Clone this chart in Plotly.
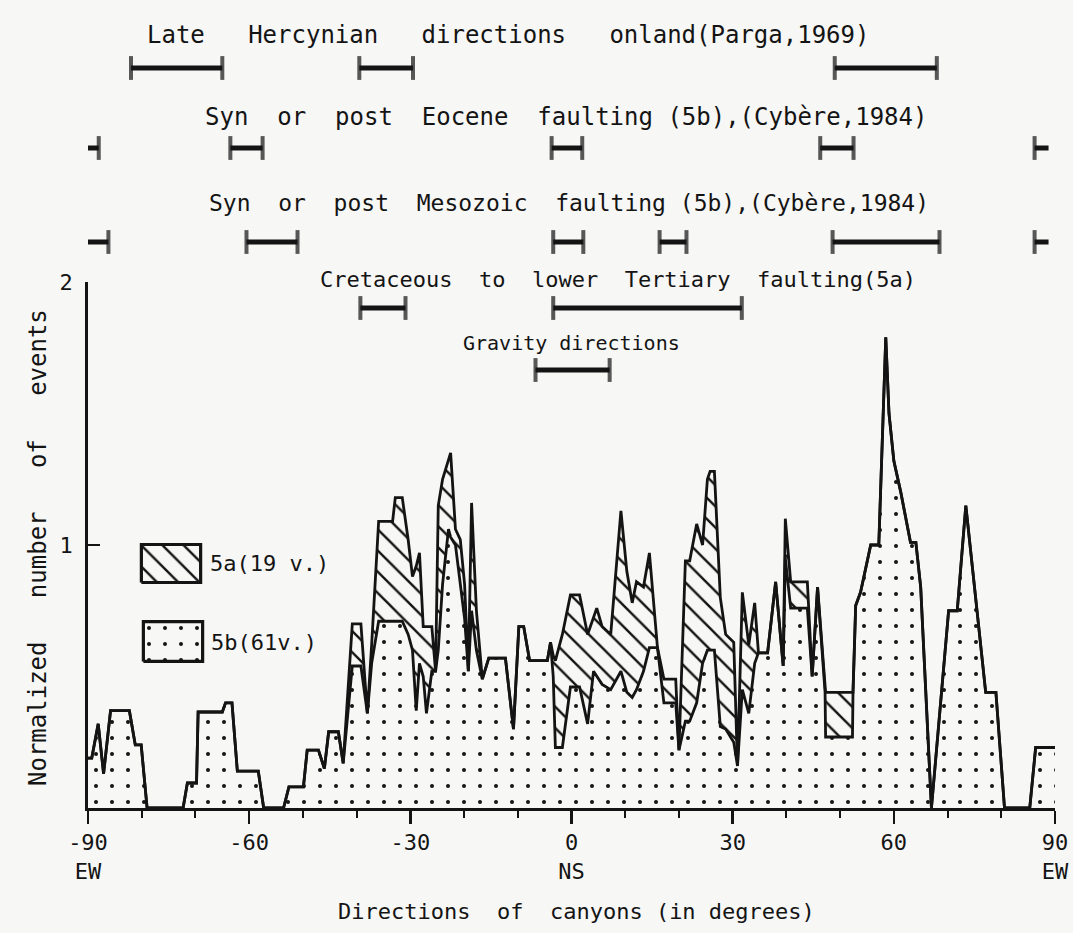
import plotly.graph_objects as go

# ---------------- data ----------------
direction_deg = [
    -90.0, -89.3, -88.1, -87.1, -85.8, -82.3, -81.2, -80.1, -79.0, -72.3,
    -71.5, -69.8, -69.5, -65.0, -64.4, -63.2, -62.2, -58.3, -57.3, -53.6,
    -52.6, -49.9, -49.2, -47.1, -46.0, -45.2, -43.4, -42.5,
    -40.8, -39.2, -38.0, -37.2, -35.9, -33.3, -32.8, -31.5, -30.4, -29.6,
    -28.9, -28.3, -27.6, -27.0, -26.0, -25.3, -24.8, -24.0, -22.9, -22.5,
    -21.6, -20.7, -19.9, -19.2, -18.6, -17.7, -16.6, -15.4, -12.3, -10.8,
    -9.8, -8.9, -7.8, -4.5, -3.9, -3.4, -3.0, -1.7, -0.2, 1.5,
    3.0, 4.1, 4.7, 5.7, 7.3, 9.2, 10.3, 11.3, 12.1, 13.4,
    14.5, 16.0, 17.2, 19.4, 20.0, 21.2, 22.0, 23.3, 24.4, 25.3,
    25.8, 26.6, 27.7, 28.7, 30.2, 30.9, 31.8, 33.0, 34.1, 34.8,
    36.5, 38.0, 39.4, 39.8, 40.8, 43.9, 44.8, 45.8, 47.2, 47.3,
    52.3, 52.4, 52.9, 53.8, 55.7, 57.2, 58.5, 59.1, 60.0, 61.3,
    63.1, 64.1, 65.0, 67.0, 70.2, 71.8, 73.4, 77.1, 79.0, 80.6,
    85.3, 86.4, 90.0,
]

# normalized number of events, 5b only (dotted)
events_5b = [
    0.19, 0.19, 0.32, 0.13, 0.37, 0.37, 0.24, 0.24, 0.00, 0.00,
    0.095, 0.095, 0.365, 0.365, 0.40, 0.40, 0.14, 0.14, 0.00, 0.00,
    0.08, 0.08, 0.22, 0.22, 0.15, 0.29, 0.29, 0.17,
    0.54, 0.54, 0.36, 0.55, 0.71, 0.71, 0.71, 0.71, 0.66, 0.60,
    0.37, 0.55, 0.50, 0.36, 0.52, 0.52, 0.60, 0.85, 1.06, 1.03,
    1.00, 0.85, 0.72, 0.52, 0.75, 0.60, 0.49, 0.57, 0.57, 0.30,
    0.69, 0.69, 0.56, 0.56, 0.63, 0.50, 0.23, 0.23, 0.46, 0.46,
    0.32, 0.52, 0.50, 0.47, 0.45, 0.52, 0.44, 0.42, 0.45, 0.52,
    0.61, 0.61, 0.40, 0.40, 0.22, 0.33, 0.33, 0.40, 0.55, 0.60,
    0.60, 0.60, 0.31, 0.30, 0.25, 0.16, 0.45, 0.36, 0.55, 0.59,
    0.59, 0.86, 0.54, 0.95, 0.76, 0.76, 0.50, 0.84, 0.44, 0.27,
    0.27, 0.44, 0.77, 0.82, 1.00, 1.00, 1.79, 1.50, 1.32, 1.20,
    1.01, 1.01, 0.84, 0.00, 0.75, 0.75, 1.15, 0.44, 0.44, 0.00,
    0.00, 0.23, 0.23,
]

# normalized number of events, 5a stacked on 5b (top outline)
events_total = [
    0.19, 0.19, 0.32, 0.13, 0.37, 0.37, 0.24, 0.24, 0.00, 0.00,
    0.095, 0.095, 0.365, 0.365, 0.40, 0.40, 0.14, 0.14, 0.00, 0.00,
    0.08, 0.08, 0.22, 0.22, 0.15, 0.29, 0.29, 0.17,
    0.70, 0.70, 0.36, 0.62, 1.09, 1.09, 1.18, 1.18, 1.02, 0.88,
    0.92, 0.97, 0.69, 0.69, 0.69, 0.52, 1.15, 1.25, 1.33, 1.35,
    1.06, 1.02, 0.85, 0.52, 1.16, 0.75, 0.49, 0.57, 0.57, 0.30,
    0.69, 0.69, 0.56, 0.56, 0.63, 0.58, 0.56, 0.66, 0.81, 0.81,
    0.66, 0.72, 0.76, 0.69, 0.66, 1.13, 0.90, 0.78, 0.86, 0.84,
    0.97, 0.61, 0.49, 0.49, 0.22, 0.94, 0.94, 1.08, 1.00, 1.25,
    1.28, 1.28, 0.80, 0.66, 0.63, 0.16, 0.82, 0.62, 0.78, 0.59,
    0.59, 0.86, 0.54, 1.10, 0.86, 0.86, 0.50, 0.84, 0.44, 0.44,
    0.44, 0.44, 0.77, 0.82, 1.00, 1.00, 1.79, 1.50, 1.32, 1.20,
    1.01, 1.01, 0.84, 0.00, 0.75, 0.75, 1.15, 0.44, 0.44, 0.00,
    0.00, 0.23, 0.23,
]

# direction ranges (degrees); (a, b) with a > b wraps across +/-90
hercynian = [(-82.0, -65.0), (-39.5, -29.5), (49.0, 68.0)]
eocene = [(86.2, -88.0), (-63.5, -57.5), (-3.7, 2.0), (46.3, 52.5)]
mesozoic = [(86.2, -86.2), (-60.5, -51.0), (-3.4, 2.2), (16.4, 21.4), (48.6, 68.5)]
cretaceous = [(-39.3, -30.9), (-3.4, 31.7)]
gravity = [(-6.7, 7.1)]

S2 = "\u00a0\u00a0"
S3 = "\u00a0\u00a0\u00a0"
range_labels = [
    "Late" + S3 + "Hercynian" + S3 + "directions" + S3 + "onland(Parga,1969)",
    "Syn" + S2 + "or" + S2 + "post" + S2 + "Eocene" + S2 + "faulting\u00a0(5b),(Cybère,1984)",
    "Syn" + S2 + "or" + S2 + "post" + S2 + "Mesozoic" + S2 + "faulting\u00a0(5b),(Cybère,1984)",
    "Cretaceous" + S2 + "to" + S2 + "lower" + S2 + "Tertiary" + S2 + "faulting(5a)",
    "Gravity\u00a0directions",
]
range_sets = [hercynian, eocene, mesozoic, cretaceous, gravity]

x_tickvals = [-90, -60, -30, 0, 30, 60, 90]
x_ticktext = ["-90<br>EW", "-60", "-30", "0<br>NS", "30", "60", "90<br>EW"]
y_tickvals = [1, 2]
y_ticktext = ["1", "2"]

# ---------------- layout / style constants ----------------
W, H = 1073, 933
BG = "#f7f7f6"
INK = "#141414"
FONT = "DejaVu Sans Mono"

def px_x(p):
    return p / W

def px_y(p):
    return 1 - p / H

X_DOM = [px_x(88), px_x(1055)]
Y_DOM = [px_y(808), px_y(282)]
ROW_Y = [px_y(68), px_y(148), px_y(242), px_y(308), px_y(370)]
LABEL_Y = [px_y(35), px_y(117), px_y(203), px_y(279), px_y(343)]
LABEL_X = [px_x(508), px_x(566), px_x(569), px_x(618), px_x(571)]
LABEL_SIZE = [24, 24, 23, 22, 20]
WRAP_RIGHT, WRAP_LEFT = 88.8, -90.0

HATCH = dict(shape="\\", size=15, solidity=0.16, fgcolor=INK, fgopacity=1,
             bgcolor=BG, fillmode="replace")
DOTS = dict(shape=".", size=16, solidity=0.05, fgcolor=INK, fgopacity=1,
            bgcolor=BG, fillmode="replace")

fig = go.Figure()

# 5b dotted area
fig.add_trace(go.Scatter(
    x=direction_deg, y=events_5b, mode="lines", name="5b (61 v.)",
    line=dict(color=INK, width=2.8), fill="tozeroy", fillcolor=BG,
    fillpattern=DOTS, showlegend=False, hoverinfo="skip",
))
# 5a hatched area stacked on 5b
fig.add_trace(go.Scatter(
    x=direction_deg, y=events_total, mode="lines", name="5a (19 v.)",
    line=dict(color=INK, width=2.8), fill="tonexty", fillcolor=BG,
    fillpattern=HATCH, showlegend=False, hoverinfo="skip",
))

# range bars on an auxiliary full-height axis
for row_y, bars in zip(ROW_Y, range_sets):
    for a, b in bars:
        if a > b:
            pieces = [((a, WRAP_RIGHT), (17, 0)), ((WRAP_LEFT, b), (0, 17))]
        else:
            pieces = [((a, b), (17, 17))]
        for (s, e), caps in pieces:
            fig.add_trace(go.Scatter(
                x=[s, e], y=[row_y, row_y], xaxis="x", yaxis="y3",
                mode="lines+markers", line=dict(color=INK, width=5),
                marker=dict(symbol="line-ns", size=list(caps),
                            line=dict(width=4, color=INK), color=INK),
                showlegend=False, hoverinfo="skip", cliponaxis=False,
            ))

# legend swatches on small auxiliary axes
swatch_x = [0, 1, 1, 0, 0]
swatch_y = [0, 0, 1, 1, 0]
fig.add_trace(go.Scatter(
    x=swatch_x, y=swatch_y, xaxis="x4", yaxis="y4", mode="lines",
    line=dict(color=INK, width=3.2), fill="toself", fillcolor=BG,
    fillpattern=HATCH, showlegend=False, hoverinfo="skip",
))
fig.add_trace(go.Scatter(
    x=swatch_x, y=swatch_y, xaxis="x5", yaxis="y5", mode="lines",
    line=dict(color=INK, width=3.2), fill="toself", fillcolor=BG,
    fillpattern=DOTS, showlegend=False, hoverinfo="skip",
))

annotations = []
for txt, lx, ly, fs in zip(range_labels, LABEL_X, LABEL_Y, LABEL_SIZE):
    annotations.append(dict(text=txt, x=lx, y=ly, xref="paper", yref="paper",
                            showarrow=False, xanchor="center", yanchor="middle",
                            font=dict(family=FONT, size=fs, color=INK)))
annotations += [
    dict(text="5a(19\u00a0v.)", x=px_x(208), y=px_y(563), xref="paper", yref="paper",
         showarrow=False, xanchor="left", yanchor="middle",
         font=dict(family=FONT, size=22, color=INK)),
    dict(text="5b(61v.)", x=px_x(209), y=px_y(642), xref="paper", yref="paper",
         showarrow=False, xanchor="left", yanchor="middle",
         font=dict(family=FONT, size=22, color=INK)),
    dict(text="Normalized" + S3 + "number" + S3 + "of" + S3 + "events", x=px_x(38), y=px_y(548),
         xref="paper", yref="paper", showarrow=False, textangle=-90,
         xanchor="center", yanchor="middle", font=dict(family=FONT, size=24, color=INK)),
    dict(text="Directions" + S2 + "of" + S2 + "canyons\u00a0(in\u00a0degrees)", x=px_x(576), y=px_y(911),
         xref="paper", yref="paper", showarrow=False,
         xanchor="center", yanchor="middle", font=dict(family=FONT, size=22, color=INK)),
]

hidden = dict(visible=False, range=[-0.04, 1.04], fixedrange=True, automargin=False)

fig.update_layout(
    width=W, height=H, margin=dict(l=0, r=0, t=0, b=0, pad=0), autosize=False,
    paper_bgcolor=BG, plot_bgcolor="rgba(0,0,0,0)", showlegend=False,
    font=dict(family=FONT, size=22, color=INK),
    xaxis=dict(domain=X_DOM, range=[-90, 90], anchor="y", automargin=False,
               tickvals=x_tickvals, ticktext=x_ticktext,
               ticks="outside", ticklen=13, tickwidth=2.5, tickcolor=INK,
               minor=dict(dtick=10, tick0=0, ticks="outside", ticklen=7,
                          tickwidth=2, tickcolor=INK),
               showline=True, linewidth=2.8, linecolor=INK,
               showgrid=False, zeroline=False, fixedrange=True,
               tickfont=dict(family=FONT, size=22, color=INK)),
    yaxis=dict(domain=Y_DOM, range=[0, 2], anchor="x", automargin=False,
               tickvals=y_tickvals, ticktext=y_ticktext,
               ticks="inside", ticklen=12, tickwidth=2.5, tickcolor=INK,
               showline=True, linewidth=2.8, linecolor=INK,
               showgrid=False, zeroline=False, ticklabelstandoff=8, fixedrange=True,
               tickfont=dict(family=FONT, size=22, color=INK)),
    yaxis3=dict(domain=[0, 1], range=[0, 1], anchor="x", visible=False,
                fixedrange=True, automargin=False),
    xaxis4=dict(domain=[px_x(139), px_x(203)], anchor="y4", **hidden),
    yaxis4=dict(domain=[px_y(584), px_y(543)], anchor="x4", **hidden),
    xaxis5=dict(domain=[px_x(141), px_x(205)], anchor="y5", **hidden),
    yaxis5=dict(domain=[px_y(663), px_y(620)], anchor="x5", **hidden),
    annotations=annotations,
)

fig.write_html("out.html", config={"displayModeBar": False, "staticPlot": True},
               post_script="document.body.style.margin='0';document.body.style.padding='0';")
